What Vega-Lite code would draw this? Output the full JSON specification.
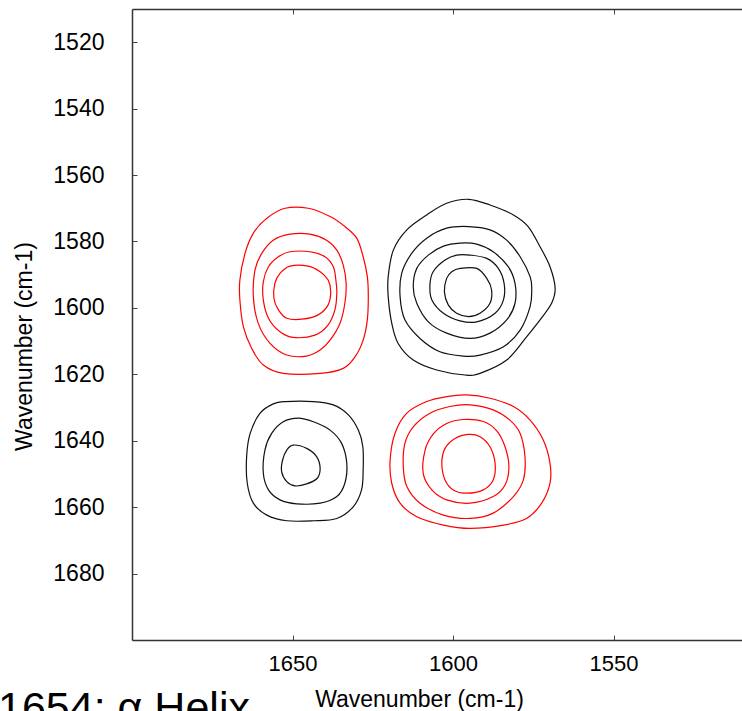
{
  "$schema": "https://vega.github.io/schema/vega-lite/v6.json",
  "autosize": {"type": "none"},
  "width": 610,
  "height": 631,
  "padding": {"left": 132, "top": 9, "right": 0, "bottom": 71},
  "background": "white",
  "config": {
    "view": {"stroke": null},
    "font": "Liberation Sans",
    "axis": {
      "grid": false,
      "domainColor": "#333333",
      "domainWidth": 1.5,
      "tickColor": "#444444",
      "tickWidth": 1,
      "tickSize": -5,
      "labelColor": "#000000",
      "labelFont": "Liberation Sans",
      "titleFont": "Liberation Sans",
      "titleColor": "#000000",
      "titleFontWeight": "normal"
    }
  },
  "title": {
    "text": "1654: α Helix",
    "orient": "bottom",
    "anchor": "start",
    "frame": "group",
    "font": "Liberation Sans",
    "fontSize": 43,
    "fontWeight": "normal",
    "color": "#000000",
    "dx": -134,
    "offset": -23
  },
  "data": {
    "values": [
      {"c": "A1", "s": "-", "x": 1652.3, "y": 1570.0},
      {"c": "A1", "s": "-", "x": 1645.1, "y": 1570.0},
      {"c": "A1", "s": "-", "x": 1638.3, "y": 1572.5},
      {"c": "A1", "s": "-", "x": 1633.7, "y": 1575.5},
      {"c": "A1", "s": "-", "x": 1630.0, "y": 1579.0},
      {"c": "A1", "s": "-", "x": 1628.0, "y": 1584.6},
      {"c": "A1", "s": "-", "x": 1626.7, "y": 1590.6},
      {"c": "A1", "s": "-", "x": 1626.4, "y": 1596.6},
      {"c": "A1", "s": "-", "x": 1626.7, "y": 1603.6},
      {"c": "A1", "s": "-", "x": 1628.0, "y": 1609.7},
      {"c": "A1", "s": "-", "x": 1630.5, "y": 1614.7},
      {"c": "A1", "s": "-", "x": 1634.2, "y": 1618.2},
      {"c": "A1", "s": "-", "x": 1641.4, "y": 1619.7},
      {"c": "A1", "s": "-", "x": 1652.9, "y": 1619.7},
      {"c": "A1", "s": "-", "x": 1659.1, "y": 1617.2},
      {"c": "A1", "s": "-", "x": 1662.7, "y": 1612.2},
      {"c": "A1", "s": "-", "x": 1665.3, "y": 1605.7},
      {"c": "A1", "s": "-", "x": 1666.4, "y": 1597.6},
      {"c": "A1", "s": "-", "x": 1666.4, "y": 1591.6},
      {"c": "A1", "s": "-", "x": 1664.8, "y": 1583.6},
      {"c": "A1", "s": "-", "x": 1662.2, "y": 1577.5},
      {"c": "A1", "s": "-", "x": 1658.0, "y": 1573.0},

      {"c": "A2", "s": "-", "x": 1650.8, "y": 1577.8},
      {"c": "A2", "s": "-", "x": 1644.6, "y": 1577.8},
      {"c": "A2", "s": "-", "x": 1639.4, "y": 1579.6},
      {"c": "A2", "s": "-", "x": 1636.2, "y": 1582.6},
      {"c": "A2", "s": "-", "x": 1634.2, "y": 1587.1},
      {"c": "A2", "s": "-", "x": 1633.3, "y": 1592.6},
      {"c": "A2", "s": "-", "x": 1633.7, "y": 1598.6},
      {"c": "A2", "s": "-", "x": 1635.2, "y": 1604.6},
      {"c": "A2", "s": "-", "x": 1638.3, "y": 1609.7},
      {"c": "A2", "s": "-", "x": 1641.4, "y": 1612.7},
      {"c": "A2", "s": "-", "x": 1645.6, "y": 1614.5},
      {"c": "A2", "s": "-", "x": 1651.8, "y": 1614.2},
      {"c": "A2", "s": "-", "x": 1657.0, "y": 1610.7},
      {"c": "A2", "s": "-", "x": 1660.7, "y": 1604.6},
      {"c": "A2", "s": "-", "x": 1662.2, "y": 1596.6},
      {"c": "A2", "s": "-", "x": 1661.7, "y": 1588.6},
      {"c": "A2", "s": "-", "x": 1659.6, "y": 1583.6},
      {"c": "A2", "s": "-", "x": 1656.0, "y": 1579.6},

      {"c": "A3", "s": "-", "x": 1650.8, "y": 1583.1},
      {"c": "A3", "s": "-", "x": 1644.6, "y": 1583.1},
      {"c": "A3", "s": "-", "x": 1639.9, "y": 1584.6},
      {"c": "A3", "s": "-", "x": 1637.3, "y": 1587.6},
      {"c": "A3", "s": "-", "x": 1636.5, "y": 1591.6},
      {"c": "A3", "s": "-", "x": 1636.2, "y": 1595.6},
      {"c": "A3", "s": "-", "x": 1636.8, "y": 1600.6},
      {"c": "A3", "s": "-", "x": 1638.9, "y": 1605.1},
      {"c": "A3", "s": "-", "x": 1643.0, "y": 1608.2},
      {"c": "A3", "s": "-", "x": 1649.8, "y": 1608.9},
      {"c": "A3", "s": "-", "x": 1653.9, "y": 1607.2},
      {"c": "A3", "s": "-", "x": 1657.5, "y": 1603.1},
      {"c": "A3", "s": "-", "x": 1659.1, "y": 1597.6},
      {"c": "A3", "s": "-", "x": 1659.1, "y": 1592.1},
      {"c": "A3", "s": "-", "x": 1657.5, "y": 1587.6},
      {"c": "A3", "s": "-", "x": 1654.4, "y": 1584.6},

      {"c": "A4", "s": "-", "x": 1650.8, "y": 1587.4},
      {"c": "A4", "s": "-", "x": 1645.1, "y": 1587.4},
      {"c": "A4", "s": "-", "x": 1641.4, "y": 1589.1},
      {"c": "A4", "s": "-", "x": 1638.9, "y": 1591.6},
      {"c": "A4", "s": "-", "x": 1638.1, "y": 1595.1},
      {"c": "A4", "s": "-", "x": 1638.9, "y": 1599.1},
      {"c": "A4", "s": "-", "x": 1642.0, "y": 1602.1},
      {"c": "A4", "s": "-", "x": 1647.1, "y": 1603.4},
      {"c": "A4", "s": "-", "x": 1651.8, "y": 1603.1},
      {"c": "A4", "s": "-", "x": 1654.4, "y": 1600.6},
      {"c": "A4", "s": "-", "x": 1655.8, "y": 1597.1},
      {"c": "A4", "s": "-", "x": 1655.5, "y": 1592.6},
      {"c": "A4", "s": "-", "x": 1653.9, "y": 1589.6},

      {"c": "B1", "s": "+", "x": 1595.2, "y": 1567.3},
      {"c": "B1", "s": "+", "x": 1588.5, "y": 1569.0},
      {"c": "B1", "s": "+", "x": 1581.2, "y": 1572.0},
      {"c": "B1", "s": "+", "x": 1576.6, "y": 1575.5},
      {"c": "B1", "s": "+", "x": 1572.9, "y": 1581.6},
      {"c": "B1", "s": "+", "x": 1569.8, "y": 1587.6},
      {"c": "B1", "s": "+", "x": 1568.2, "y": 1594.1},
      {"c": "B1", "s": "+", "x": 1569.3, "y": 1598.6},
      {"c": "B1", "s": "+", "x": 1572.9, "y": 1603.6},
      {"c": "B1", "s": "+", "x": 1577.1, "y": 1608.7},
      {"c": "B1", "s": "+", "x": 1583.3, "y": 1615.7},
      {"c": "B1", "s": "+", "x": 1591.6, "y": 1619.7},
      {"c": "B1", "s": "+", "x": 1596.3, "y": 1620.2},
      {"c": "B1", "s": "+", "x": 1605.1, "y": 1618.7},
      {"c": "B1", "s": "+", "x": 1612.4, "y": 1615.7},
      {"c": "B1", "s": "+", "x": 1617.1, "y": 1610.7},
      {"c": "B1", "s": "+", "x": 1619.1, "y": 1604.6},
      {"c": "B1", "s": "+", "x": 1620.2, "y": 1596.6},
      {"c": "B1", "s": "+", "x": 1620.2, "y": 1590.6},
      {"c": "B1", "s": "+", "x": 1618.6, "y": 1582.6},
      {"c": "B1", "s": "+", "x": 1614.4, "y": 1576.5},
      {"c": "B1", "s": "+", "x": 1608.2, "y": 1572.0},
      {"c": "B1", "s": "+", "x": 1602.0, "y": 1568.5},

      {"c": "B2", "s": "+", "x": 1595.2, "y": 1575.5},
      {"c": "B2", "s": "+", "x": 1588.5, "y": 1576.5},
      {"c": "B2", "s": "+", "x": 1583.3, "y": 1579.6},
      {"c": "B2", "s": "+", "x": 1579.1, "y": 1584.6},
      {"c": "B2", "s": "+", "x": 1576.0, "y": 1590.6},
      {"c": "B2", "s": "+", "x": 1575.5, "y": 1594.6},
      {"c": "B2", "s": "+", "x": 1576.0, "y": 1599.6},
      {"c": "B2", "s": "+", "x": 1579.1, "y": 1606.7},
      {"c": "B2", "s": "+", "x": 1584.3, "y": 1611.7},
      {"c": "B2", "s": "+", "x": 1591.6, "y": 1614.2},
      {"c": "B2", "s": "+", "x": 1596.8, "y": 1614.5},
      {"c": "B2", "s": "+", "x": 1604.1, "y": 1613.2},
      {"c": "B2", "s": "+", "x": 1610.3, "y": 1609.2},
      {"c": "B2", "s": "+", "x": 1615.0, "y": 1603.6},
      {"c": "B2", "s": "+", "x": 1616.5, "y": 1596.6},
      {"c": "B2", "s": "+", "x": 1616.0, "y": 1589.6},
      {"c": "B2", "s": "+", "x": 1612.9, "y": 1583.6},
      {"c": "B2", "s": "+", "x": 1608.2, "y": 1579.0},
      {"c": "B2", "s": "+", "x": 1602.0, "y": 1576.0},

      {"c": "B3", "s": "+", "x": 1597.8, "y": 1580.5},
      {"c": "B3", "s": "+", "x": 1592.6, "y": 1580.8},
      {"c": "B3", "s": "+", "x": 1587.5, "y": 1583.1},
      {"c": "B3", "s": "+", "x": 1582.8, "y": 1587.6},
      {"c": "B3", "s": "+", "x": 1580.7, "y": 1592.6},
      {"c": "B3", "s": "+", "x": 1580.7, "y": 1598.6},
      {"c": "B3", "s": "+", "x": 1583.3, "y": 1603.6},
      {"c": "B3", "s": "+", "x": 1588.5, "y": 1607.6},
      {"c": "B3", "s": "+", "x": 1594.7, "y": 1609.2},
      {"c": "B3", "s": "+", "x": 1602.0, "y": 1607.6},
      {"c": "B3", "s": "+", "x": 1607.7, "y": 1604.2},
      {"c": "B3", "s": "+", "x": 1611.3, "y": 1598.6},
      {"c": "B3", "s": "+", "x": 1612.4, "y": 1593.6},
      {"c": "B3", "s": "+", "x": 1611.3, "y": 1588.1},
      {"c": "B3", "s": "+", "x": 1607.7, "y": 1584.1},
      {"c": "B3", "s": "+", "x": 1603.0, "y": 1581.4},

      {"c": "B4", "s": "+", "x": 1594.7, "y": 1584.1},
      {"c": "B4", "s": "+", "x": 1589.5, "y": 1585.1},
      {"c": "B4", "s": "+", "x": 1585.9, "y": 1588.1},
      {"c": "B4", "s": "+", "x": 1584.1, "y": 1592.6},
      {"c": "B4", "s": "+", "x": 1584.3, "y": 1597.6},
      {"c": "B4", "s": "+", "x": 1586.9, "y": 1601.6},
      {"c": "B4", "s": "+", "x": 1592.6, "y": 1604.2},
      {"c": "B4", "s": "+", "x": 1597.8, "y": 1603.9},
      {"c": "B4", "s": "+", "x": 1603.0, "y": 1601.6},
      {"c": "B4", "s": "+", "x": 1606.6, "y": 1597.6},
      {"c": "B4", "s": "+", "x": 1607.2, "y": 1593.1},
      {"c": "B4", "s": "+", "x": 1606.2, "y": 1589.1},
      {"c": "B4", "s": "+", "x": 1602.5, "y": 1585.6},
      {"c": "B4", "s": "+", "x": 1598.9, "y": 1584.1},

      {"c": "B5", "s": "+", "x": 1597.8, "y": 1588.1},
      {"c": "B5", "s": "+", "x": 1592.6, "y": 1588.1},
      {"c": "B5", "s": "+", "x": 1589.5, "y": 1591.1},
      {"c": "B5", "s": "+", "x": 1588.0, "y": 1594.6},
      {"c": "B5", "s": "+", "x": 1588.5, "y": 1598.6},
      {"c": "B5", "s": "+", "x": 1591.6, "y": 1601.6},
      {"c": "B5", "s": "+", "x": 1595.2, "y": 1602.6},
      {"c": "B5", "s": "+", "x": 1598.9, "y": 1601.6},
      {"c": "B5", "s": "+", "x": 1601.5, "y": 1599.1},
      {"c": "B5", "s": "+", "x": 1602.7, "y": 1595.1},
      {"c": "B5", "s": "+", "x": 1602.0, "y": 1591.1},
      {"c": "B5", "s": "+", "x": 1600.4, "y": 1589.1},

      {"c": "C1", "s": "+", "x": 1652.3, "y": 1628.2},
      {"c": "C1", "s": "+", "x": 1643.5, "y": 1628.2},
      {"c": "C1", "s": "+", "x": 1637.3, "y": 1629.2},
      {"c": "C1", "s": "+", "x": 1632.6, "y": 1632.2},
      {"c": "C1", "s": "+", "x": 1629.5, "y": 1636.8},
      {"c": "C1", "s": "+", "x": 1628.1, "y": 1641.8},
      {"c": "C1", "s": "+", "x": 1628.0, "y": 1648.8},
      {"c": "C1", "s": "+", "x": 1628.5, "y": 1654.8},
      {"c": "C1", "s": "+", "x": 1631.1, "y": 1659.9},
      {"c": "C1", "s": "+", "x": 1636.2, "y": 1663.4},
      {"c": "C1", "s": "+", "x": 1643.5, "y": 1664.1},
      {"c": "C1", "s": "+", "x": 1651.8, "y": 1664.1},
      {"c": "C1", "s": "+", "x": 1658.0, "y": 1662.4},
      {"c": "C1", "s": "+", "x": 1662.2, "y": 1658.8},
      {"c": "C1", "s": "+", "x": 1664.1, "y": 1652.8},
      {"c": "C1", "s": "+", "x": 1664.3, "y": 1644.8},
      {"c": "C1", "s": "+", "x": 1663.2, "y": 1637.8},
      {"c": "C1", "s": "+", "x": 1660.1, "y": 1631.7},
      {"c": "C1", "s": "+", "x": 1656.0, "y": 1628.9},

      {"c": "C2", "s": "+", "x": 1648.2, "y": 1633.2},
      {"c": "C2", "s": "+", "x": 1643.5, "y": 1634.3},
      {"c": "C2", "s": "+", "x": 1638.3, "y": 1636.8},
      {"c": "C2", "s": "+", "x": 1634.7, "y": 1640.8},
      {"c": "C2", "s": "+", "x": 1633.1, "y": 1646.8},
      {"c": "C2", "s": "+", "x": 1633.7, "y": 1652.8},
      {"c": "C2", "s": "+", "x": 1636.2, "y": 1656.8},
      {"c": "C2", "s": "+", "x": 1641.4, "y": 1658.8},
      {"c": "C2", "s": "+", "x": 1648.7, "y": 1659.0},
      {"c": "C2", "s": "+", "x": 1653.9, "y": 1657.8},
      {"c": "C2", "s": "+", "x": 1657.5, "y": 1654.8},
      {"c": "C2", "s": "+", "x": 1659.1, "y": 1649.8},
      {"c": "C2", "s": "+", "x": 1658.6, "y": 1642.8},
      {"c": "C2", "s": "+", "x": 1656.5, "y": 1637.8},
      {"c": "C2", "s": "+", "x": 1652.9, "y": 1634.3},

      {"c": "C3", "s": "+", "x": 1649.8, "y": 1641.3},
      {"c": "C3", "s": "+", "x": 1645.6, "y": 1642.3},
      {"c": "C3", "s": "+", "x": 1642.5, "y": 1644.8},
      {"c": "C3", "s": "+", "x": 1641.4, "y": 1648.3},
      {"c": "C3", "s": "+", "x": 1642.3, "y": 1651.3},
      {"c": "C3", "s": "+", "x": 1645.6, "y": 1653.0},
      {"c": "C3", "s": "+", "x": 1649.2, "y": 1653.6},
      {"c": "C3", "s": "+", "x": 1651.8, "y": 1652.3},
      {"c": "C3", "s": "+", "x": 1653.4, "y": 1649.3},
      {"c": "C3", "s": "+", "x": 1653.1, "y": 1645.8},
      {"c": "C3", "s": "+", "x": 1651.8, "y": 1642.8},

      {"c": "D1", "s": "-", "x": 1595.7, "y": 1626.2},
      {"c": "D1", "s": "-", "x": 1588.5, "y": 1627.2},
      {"c": "D1", "s": "-", "x": 1581.2, "y": 1629.7},
      {"c": "D1", "s": "-", "x": 1576.0, "y": 1633.8},
      {"c": "D1", "s": "-", "x": 1571.9, "y": 1639.8},
      {"c": "D1", "s": "-", "x": 1569.8, "y": 1646.8},
      {"c": "D1", "s": "-", "x": 1569.8, "y": 1652.8},
      {"c": "D1", "s": "-", "x": 1572.4, "y": 1658.8},
      {"c": "D1", "s": "-", "x": 1577.1, "y": 1663.4},
      {"c": "D1", "s": "-", "x": 1584.3, "y": 1665.4},
      {"c": "D1", "s": "-", "x": 1594.7, "y": 1666.4},
      {"c": "D1", "s": "-", "x": 1603.0, "y": 1665.4},
      {"c": "D1", "s": "-", "x": 1611.3, "y": 1662.9},
      {"c": "D1", "s": "-", "x": 1616.5, "y": 1658.8},
      {"c": "D1", "s": "-", "x": 1619.1, "y": 1652.8},
      {"c": "D1", "s": "-", "x": 1619.6, "y": 1645.8},
      {"c": "D1", "s": "-", "x": 1618.1, "y": 1637.8},
      {"c": "D1", "s": "-", "x": 1614.4, "y": 1631.7},
      {"c": "D1", "s": "-", "x": 1608.2, "y": 1628.2},
      {"c": "D1", "s": "-", "x": 1602.0, "y": 1626.7},

      {"c": "D2", "s": "-", "x": 1594.7, "y": 1629.2},
      {"c": "D2", "s": "-", "x": 1587.5, "y": 1630.7},
      {"c": "D2", "s": "-", "x": 1582.3, "y": 1633.8},
      {"c": "D2", "s": "-", "x": 1579.1, "y": 1637.8},
      {"c": "D2", "s": "-", "x": 1577.6, "y": 1644.8},
      {"c": "D2", "s": "-", "x": 1578.1, "y": 1651.8},
      {"c": "D2", "s": "-", "x": 1581.2, "y": 1656.8},
      {"c": "D2", "s": "-", "x": 1587.5, "y": 1661.8},
      {"c": "D2", "s": "-", "x": 1594.7, "y": 1663.4},
      {"c": "D2", "s": "-", "x": 1603.0, "y": 1662.4},
      {"c": "D2", "s": "-", "x": 1610.3, "y": 1658.8},
      {"c": "D2", "s": "-", "x": 1614.4, "y": 1653.8},
      {"c": "D2", "s": "-", "x": 1615.5, "y": 1647.8},
      {"c": "D2", "s": "-", "x": 1615.0, "y": 1640.8},
      {"c": "D2", "s": "-", "x": 1612.4, "y": 1635.8},
      {"c": "D2", "s": "-", "x": 1607.2, "y": 1631.7},
      {"c": "D2", "s": "-", "x": 1601.0, "y": 1629.7},

      {"c": "D3", "s": "-", "x": 1596.8, "y": 1633.6},
      {"c": "D3", "s": "-", "x": 1590.6, "y": 1634.2},
      {"c": "D3", "s": "-", "x": 1586.4, "y": 1637.0},
      {"c": "D3", "s": "-", "x": 1583.8, "y": 1641.8},
      {"c": "D3", "s": "-", "x": 1582.6, "y": 1647.8},
      {"c": "D3", "s": "-", "x": 1583.8, "y": 1653.3},
      {"c": "D3", "s": "-", "x": 1587.5, "y": 1656.8},
      {"c": "D3", "s": "-", "x": 1594.7, "y": 1658.8},
      {"c": "D3", "s": "-", "x": 1602.0, "y": 1657.8},
      {"c": "D3", "s": "-", "x": 1606.6, "y": 1654.8},
      {"c": "D3", "s": "-", "x": 1609.3, "y": 1649.8},
      {"c": "D3", "s": "-", "x": 1608.7, "y": 1642.8},
      {"c": "D3", "s": "-", "x": 1606.2, "y": 1638.0},
      {"c": "D3", "s": "-", "x": 1602.0, "y": 1634.8},

      {"c": "D4", "s": "-", "x": 1595.2, "y": 1638.1},
      {"c": "D4", "s": "-", "x": 1591.6, "y": 1638.8},
      {"c": "D4", "s": "-", "x": 1588.5, "y": 1641.8},
      {"c": "D4", "s": "-", "x": 1586.9, "y": 1646.8},
      {"c": "D4", "s": "-", "x": 1587.5, "y": 1651.8},
      {"c": "D4", "s": "-", "x": 1590.6, "y": 1654.8},
      {"c": "D4", "s": "-", "x": 1595.7, "y": 1655.8},
      {"c": "D4", "s": "-", "x": 1599.9, "y": 1654.8},
      {"c": "D4", "s": "-", "x": 1602.5, "y": 1651.8},
      {"c": "D4", "s": "-", "x": 1603.5, "y": 1646.8},
      {"c": "D4", "s": "-", "x": 1602.5, "y": 1642.3},
      {"c": "D4", "s": "-", "x": 1599.4, "y": 1639.3}
    ]
  },
  "layer": [
    {
      "mark": {"type": "line", "interpolate": "cardinal-closed", "strokeWidth": 1.2},
      "encoding": {
        "x": {
          "field": "x",
          "type": "quantitative",
          "scale": {"domain": [1510, 1700], "reverse": true, "nice": false, "zero": false},
          "axis": {
            "orient": "bottom",
            "values": [1650, 1600, 1550],
            "format": "d",
            "labelFontSize": 22,
            "labelPadding": 18,
            "title": "Wavenumber (cm-1)",
            "titleFontSize": 23,
            "titleX": 287,
            "titleY": 48
          }
        },
        "y": {
          "field": "y",
          "type": "quantitative",
          "scale": {"domain": [1510, 1700], "reverse": true, "nice": false, "zero": false},
          "axis": {
            "values": [1520, 1540, 1560, 1580, 1600, 1620, 1640, 1660, 1680],
            "format": "d",
            "labelFontSize": 23,
            "labelPadding": 33,
            "title": "Wavenumber (cm-1)",
            "titleFontSize": 23,
            "titleX": -96,
            "titleY": 337
          }
        },
        "color": {
          "field": "s",
          "type": "nominal",
          "scale": {"domain": ["-", "+"], "range": ["#ff0000", "#111111"]},
          "legend": null
        },
        "detail": {"field": "c"},
        "order": {"value": null}
      }
    },
    {
      "mark": {"type": "line", "strokeOpacity": 0},
      "encoding": {
        "x": {
          "field": "x",
          "type": "quantitative",
          "axis": {"orient": "top", "values": [1650, 1600, 1550], "labels": false, "title": null}
        },
        "y": {"field": "y", "type": "quantitative"},
        "detail": {"field": "c"},
        "order": {"value": null}
      }
    }
  ],
  "resolve": {"axis": {"x": "independent"}}
}
